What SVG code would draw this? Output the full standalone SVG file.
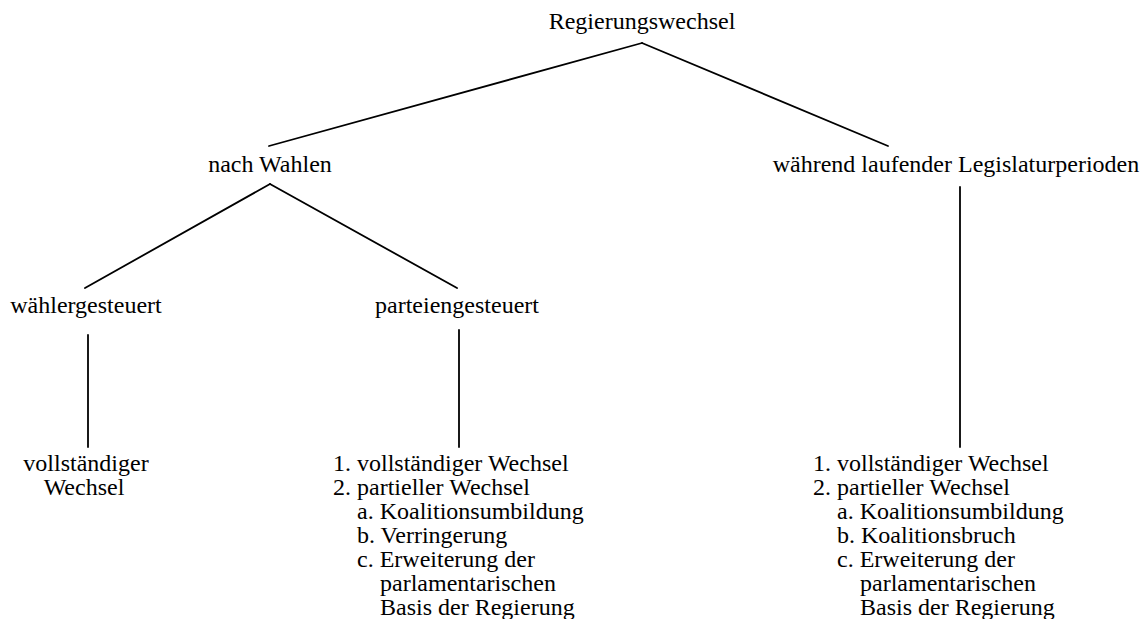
<svg xmlns="http://www.w3.org/2000/svg" width="1144" height="619" viewBox="0 0 1144 619">
<style>
text{font-family:"Liberation Serif","Times New Roman",serif;font-size:24px;fill:#000}
.c{text-anchor:middle}
.e line{stroke:#000;stroke-width:1.8;stroke-linecap:round}
</style>
<rect width="1144" height="619" fill="#fff"/>
<g class="e" id="connectors">
<line x1="642" y1="43" x2="269" y2="146"/>
<line x1="642" y1="43" x2="888" y2="146"/>
<line x1="270" y1="184" x2="85" y2="288"/>
<line x1="270" y1="184" x2="457" y2="288"/>
<line x1="88" y1="335" x2="88" y2="447"/>
<line x1="459" y1="330" x2="459" y2="447"/>
<line x1="960" y1="187" x2="960" y2="447"/>
</g>
<g id="root"><text class="c" x="642" y="29">Regierungswechsel</text></g>
<g id="nach-wahlen"><text class="c" x="270" y="172">nach Wahlen</text></g>
<g id="waehrend"><text class="c" x="956" y="172">während laufender Legislaturperioden</text></g>
<g id="waehlergesteuert"><text class="c" x="86" y="313">wählergesteuert</text></g>
<g id="parteiengesteuert"><text class="c" x="457" y="313">parteiengesteuert</text></g>
<g id="leaf-left"><text class="c" x="86" y="471">vollständiger</text><text class="c" x="84" y="495">Wechsel</text></g>
<g id="leaf-middle">
<text x="333" y="471">1. vollständiger Wechsel</text>
<text x="333" y="495">2. partieller Wechsel</text>
<text x="357" y="519">a. Koalitionsumbildung</text>
<text x="357" y="543">b. Verringerung</text>
<text x="357" y="567">c. Erweiterung der</text>
<text x="380" y="591">parlamentarischen</text>
<text x="380" y="615">Basis der Regierung</text>
</g>
<g id="leaf-right">
<text x="813" y="471">1. vollständiger Wechsel</text>
<text x="813" y="495">2. partieller Wechsel</text>
<text x="837" y="519">a. Koalitionsumbildung</text>
<text x="837" y="543">b. Koalitionsbruch</text>
<text x="837" y="567">c. Erweiterung der</text>
<text x="860" y="591">parlamentarischen</text>
<text x="860" y="615">Basis der Regierung</text>
</g>
</svg>
